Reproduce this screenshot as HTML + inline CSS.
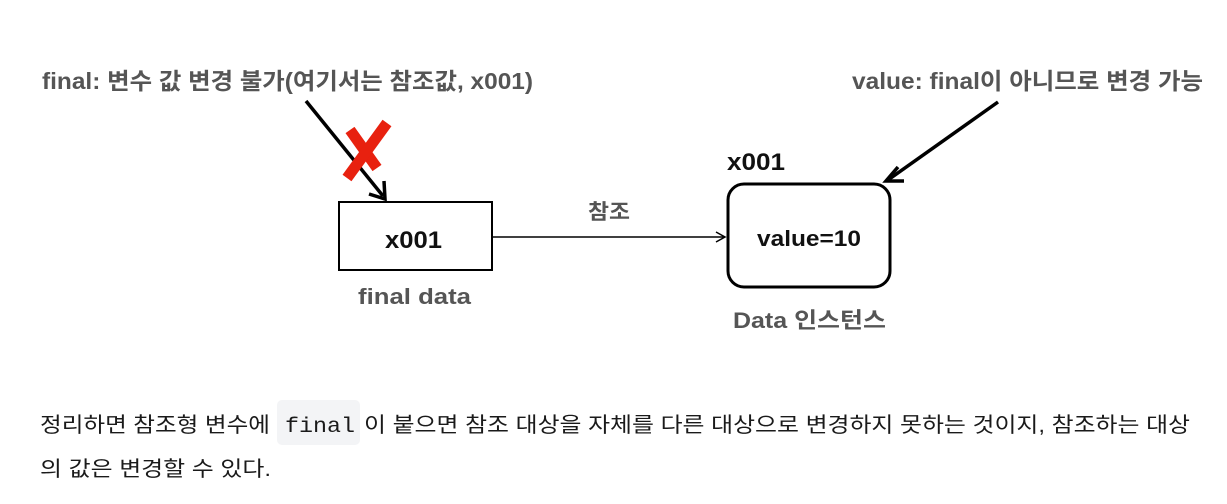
<!DOCTYPE html>
<html><head><meta charset="utf-8"><style>
body{margin:0;width:1227px;height:504px;background:#fff;overflow:hidden;position:relative}
svg{position:absolute;left:0;top:0}
</style></head><body>
<svg width="1227" height="504" font-family="Liberation Sans, Noto Sans CJK KR, sans-serif">
<g font-weight="bold">
<text x="42" y="89" font-size="23" fill="#555" textLength="491" lengthAdjust="spacingAndGlyphs">final: 변수 값 변경 불가(여기서는 참조값, x001)</text>
<text x="852" y="89" font-size="23" fill="#555" textLength="351" lengthAdjust="spacingAndGlyphs">value: final이 아니므로 변경 가능</text>
<line x1="306" y1="101" x2="383" y2="196" stroke="#000" stroke-width="3.5"/>
<polyline points="369,194 385,199 384,181" fill="none" stroke="#000" stroke-width="3.5"/>
<line x1="998" y1="102" x2="888" y2="180" stroke="#000" stroke-width="3.5"/>
<polyline points="898,167 886,181 904,181" fill="none" stroke="#000" stroke-width="3.5"/>
<g stroke="#e8210f" stroke-width="11">
<line x1="350" y1="130" x2="377" y2="168"/>
<line x1="387" y1="123" x2="347" y2="178"/>
</g>
<rect x="339" y="202" width="153" height="68" fill="#fff" stroke="#000" stroke-width="2"/>
<text x="385" y="248" font-size="24" fill="#111" textLength="57" lengthAdjust="spacingAndGlyphs">x001</text>
<text x="358" y="304" font-size="22" fill="#555" textLength="113" lengthAdjust="spacingAndGlyphs">final data</text>
<line x1="492" y1="237" x2="724" y2="237" stroke="#000" stroke-width="1.5"/>
<polyline points="716,232 725,237 716,242" fill="none" stroke="#000" stroke-width="1.5"/>
<text x="588" y="219" font-size="21" fill="#555" textLength="42" lengthAdjust="spacingAndGlyphs">참조</text>
<text x="727" y="170" font-size="24" fill="#111" textLength="58" lengthAdjust="spacingAndGlyphs">x001</text>
<rect x="728" y="184" width="162" height="103" rx="16" fill="#fff" stroke="#000" stroke-width="3"/>
<text x="757" y="246" font-size="22" fill="#111" textLength="104" lengthAdjust="spacingAndGlyphs">value=10</text>
<text x="733" y="328" font-size="22" fill="#555" textLength="153" lengthAdjust="spacingAndGlyphs">Data 인스턴스</text>
</g>
<rect x="277" y="400" width="83" height="45" rx="5" fill="#f3f4f6"/>
<g font-size="21" fill="#1a1a1a">
<text x="40" y="432" textLength="230" lengthAdjust="spacingAndGlyphs">정리하면 참조형 변수에</text>
<text x="285" y="432" font-family="Liberation Mono, monospace" textLength="70" lengthAdjust="spacingAndGlyphs">final</text>
<text x="364" y="432" textLength="826" lengthAdjust="spacingAndGlyphs">이 붙으면 참조 대상을 자체를 다른 대상으로 변경하지 못하는 것이지, 참조하는 대상</text>
<text x="40" y="476" textLength="231" lengthAdjust="spacingAndGlyphs">의 값은 변경할 수 있다.</text>
</g>
</svg>
</body></html>
